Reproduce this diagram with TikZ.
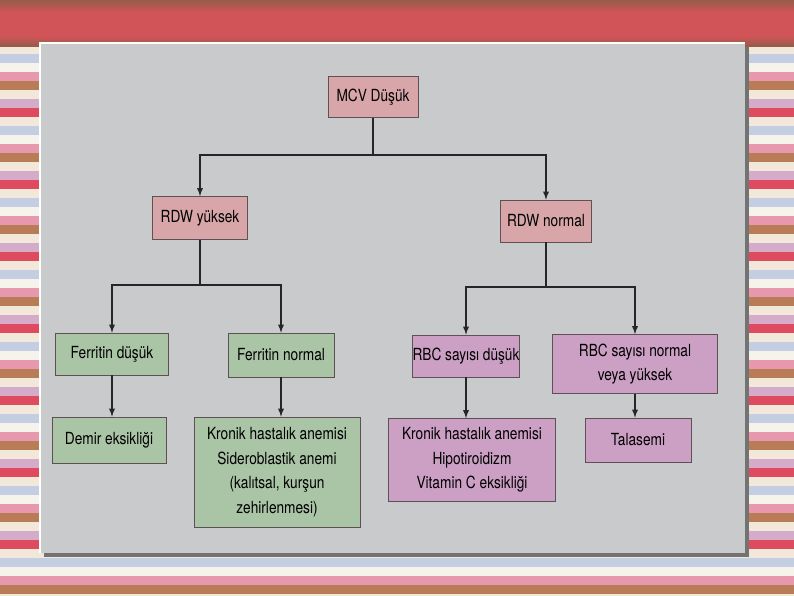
\documentclass[tikz,border=0pt]{standalone}
\usepackage{fontspec}
\setmainfont{TeX Gyre Heros}[FakeStretch=0.82]
\usetikzlibrary{positioning}
\definecolor{boxpink}{RGB}{216,166,168}
\definecolor{boxgreen}{RGB}{170,196,166}
\definecolor{boxviolet}{RGB}{204,160,196}
\definecolor{edgegray}{RGB}{95,80,85}
\definecolor{panelgray}{RGB}{200,202,204}
\definecolor{bandred}{RGB}{208,84,88}
\definecolor{bandbrown}{RGB}{150,92,72}
\definecolor{stA}{RGB}{242,232,218}
\definecolor{stB}{RGB}{196,206,226}
\definecolor{stC}{RGB}{232,152,172}
\definecolor{stD}{RGB}{222,74,94}
\definecolor{stE}{RGB}{184,124,86}
\definecolor{stF}{RGB}{246,242,236}
\definecolor{stG}{RGB}{212,172,202}
\tikzset{
  box/.style={draw=edgegray, thin, inner sep=0pt, align=center,
    font=\fontsize{9.5}{14}\selectfont},
  pinkbox/.style={box, fill=boxpink},
  greenbox/.style={box, fill=boxgreen},
  violetbox/.style={box, fill=boxviolet},
  flow/.style={->, >=latex, semithick, black!85}
}
\begin{document}
\begin{tikzpicture}[x=0.02cm,y=-0.02cm]
        \useasboundingbox (0,0) rectangle (794,595);
        % background stripes
        \foreach \i in {0,...,61} {
          \pgfmathparse{{"stA","stB","stF","stC","stE","stA","stG","stD"}[mod(\i,8)]}
          \edef\stripecol{\pgfmathresult}
          \fill[\stripecol] (0,{45+\i*9}) rectangle (794,{54+\i*9});
        }
        \shade[top color=bandbrown, bottom color=bandred] (0,0) rectangle (794,12);
        \fill[bandred] (0,12) rectangle (794,36);
        \shade[top color=bandred, bottom color=bandbrown] (0,36) rectangle (794,46);
        % photo panel
        \fill[black!55] (44,47) rectangle (749,557);
        \fill[white] (39,42) rectangle (745,553);
        \fill[panelgray] (41,44) rectangle (745,553);
        % boxes
        \node[pinkbox, minimum width=1.8cm, minimum height=0.82cm] (mcv) at (373,97) {MCV Düşük};
        \node[pinkbox, minimum width=1.9cm, minimum height=0.86cm] (rdwy) at (200,218) {RDW yüksek};
        \node[pinkbox, minimum width=1.82cm, minimum height=0.84cm] (rdwn) at (546,221) {RDW normal};
        \node[greenbox, minimum width=2.26cm, minimum height=0.84cm] (ferd) at (112,354) {Ferritin düşük};
        \node[greenbox, minimum width=2.12cm, minimum height=0.88cm] (fern) at (281,355) {Ferritin normal};
        \node[greenbox, minimum width=2.28cm, minimum height=0.92cm] (demir) at (109,440) {Demir eksikliği};
        \node[greenbox, minimum width=3.32cm, minimum height=2.2cm] (krong) at (277,472)
          {Kronik hastalık anemisi\\Sideroblastik anemi\\(kalıtsal, kurşun\\zehirlenmesi)};
        \node[violetbox, minimum width=1.94cm, minimum height=0.84cm] (rbcd) at (466,356) {RBC sayısı düşük};
        \node[violetbox, minimum width=3.3cm, minimum height=1.18cm] (rbcn) at (635,364)
          {RBC sayısı normal\\veya yüksek};
        \node[violetbox, minimum width=3.34cm, minimum height=1.66cm] (kronv) at (472,460)
          {Kronik hastalık anemisi\\Hipotiroidizm\\Vitamin C eksikliği};
        \node[violetbox, minimum width=2.12cm, minimum height=0.88cm] (tala) at (638,440) {Talasemi};
        % connectors
        \coordinate (split1) at (373,155);
        \coordinate (split2) at (200,285);
        \coordinate (split3) at (546,287);
        \draw[semithick, black!85] (mcv) -- (split1);
        \draw[flow] (split1) -| (rdwy);
        \draw[flow] (split1) -| (rdwn);
        \draw[semithick, black!85] (rdwy) -- (split2);
        \draw[flow] (split2) -| (ferd);
        \draw[flow] (split2) -| (fern);
        \draw[semithick, black!85] (rdwn) -- (split3);
        \draw[flow] (split3) -| (rbcd);
        \draw[flow] (split3) -| (rbcn);
        \draw[flow] (ferd) -- (ferd |- demir.north);
        \draw[flow] (fern) -- (fern |- krong.north);
        \draw[flow] (rbcd) -- (rbcd |- kronv.north);
        \draw[flow] (rbcn) -- (rbcn |- tala.north);
\end{tikzpicture}
\end{document}
